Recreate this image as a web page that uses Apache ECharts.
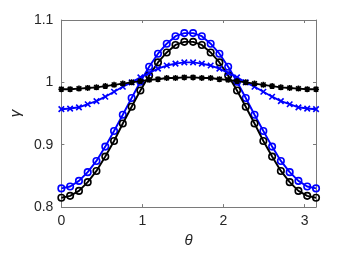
<!DOCTYPE html>
<html><head><meta charset="utf-8">
<script src="https://cdn.jsdelivr.net/npm/echarts@6/dist/echarts.min.js"></script>
<style>html,body{margin:0;padding:0;background:#fff}#c{width:349px;height:253px}</style>
</head><body><div id="c"></div>
<script>
var theta = [0, 0.108, 0.217, 0.325, 0.433, 0.542, 0.650, 0.758, 0.867, 0.975, 1.083, 1.192, 1.300, 1.408, 1.517,
             1.625, 1.733, 1.842, 1.950, 2.058, 2.167, 2.275, 2.383, 2.492, 2.600, 2.708, 2.817, 2.925, 3.033, 3.142];
var blackCircles = [0.815,0.818,0.826,0.840,0.858,0.881,0.906,0.934,0.961,0.987,1.011,1.032,1.048,1.060,1.065,
                    1.065,1.060,1.048,1.032,1.011,0.987,0.961,0.934,0.906,0.881,0.858,0.840,0.826,0.818,0.815];
var blueCircles = [0.830,0.833,0.842,0.856,0.874,0.897,0.922,0.948,0.975,1.001,1.025,1.046,1.062,1.074,1.079,
                   1.079,1.074,1.062,1.046,1.025,1.001,0.975,0.948,0.922,0.897,0.874,0.856,0.842,0.833,0.830];
var blueCross = [0.957,0.958,0.960,0.965,0.970,0.977,0.985,0.993,1.000,1.008,1.015,1.022,1.027,1.030,1.032,
                 1.032,1.030,1.027,1.022,1.015,1.008,1.000,0.993,0.985,0.977,0.970,0.965,0.960,0.958,0.957];
var blackStar = [0.989,0.989,0.990,0.991,0.992,0.994,0.996,0.998,1.000,1.002,1.004,1.005,1.007,1.007,1.008,
                 1.008,1.007,1.007,1.005,1.004,1.002,1.000,0.998,0.996,0.994,0.992,0.991,0.990,0.989,0.989];
var xTicks = [0, 1, 2, 3];
var yTicks = [0.8, 0.9, 1, 1.1];

function pairs(ys){ return theta.map(function(t,i){ return [t, ys[i]]; }); }

var axisCol = '#7a7a7a';
var labelCol = '#262626';
var font = 'Liberation Sans, Arial, sans-serif';

function mkSeries(name, ys, color, symbol, size, z){
  return {
    name: name, type: 'line', data: pairs(ys), z: z,
    symbol: symbol, symbolSize: size, showSymbol: true,
    lineStyle: {color: color, width: 1.9},
    itemStyle: {color: 'none', borderColor: color, borderWidth: 1.6},
    emphasis: {disabled: true},
    animation: false
  };
}
var circPath = 'path://M10,5A5,5 0 1,1 0,5A5,5 0 1,1 10,5Z';
var xPath = 'path://M0,0L10,10M10,0L0,10';
var starPath = 'path://M0,0L10,10M10,0L0,10M5,-1.5L5,11.5M-1.5,5L11.5,5';

var chart = echarts.init(document.getElementById('c'), null, {renderer: 'canvas'});
chart.setOption({
  animation: false,
  backgroundColor: '#fff',
  grid: {left: 61, right: 33, top: 20, bottom: 45, containLabel: false},
  xAxis: [{
    type: 'value', min: 0, max: 3.1416, interval: 1, position: 'bottom',
    name: 'θ', nameLocation: 'middle', nameGap: 24,
    nameTextStyle: {fontFamily: font, fontStyle: 'italic', fontSize: 15, color: labelCol},
    axisLine: {show: true, onZero: false, lineStyle: {color: axisCol, width: 1}},
    axisTick: {show: true, inside: true, length: 3, lineStyle: {color: axisCol}},
    axisLabel: {margin: 7, fontFamily: font, fontSize: 14, color: labelCol, showMaxLabel: false,
      formatter: function(v){ return xTicks.indexOf(v) >= 0 ? String(v) : ''; }},
    splitLine: {show: false}
  }, {
    type: 'value', min: 0, max: 3.1416, interval: 1, position: 'top',
    axisLine: {show: true, onZero: false, lineStyle: {color: axisCol, width: 1}},
    axisTick: {show: true, inside: true, length: 3, lineStyle: {color: axisCol}},
    axisLabel: {show: false}, splitLine: {show: false}
  }],
  yAxis: [{
    type: 'value', min: 0.8, max: 1.1, interval: 0.1, position: 'left',
    name: 'γ', nameLocation: 'middle', nameGap: 36, nameRotate: 90,
    nameTextStyle: {fontFamily: font, fontStyle: 'italic', fontSize: 15, color: labelCol},
    axisLine: {show: true, onZero: false, lineStyle: {color: axisCol, width: 1}},
    axisTick: {show: true, inside: true, length: 3, lineStyle: {color: axisCol}},
    axisLabel: {margin: 8, fontFamily: font, fontSize: 14, color: labelCol,
      formatter: function(v){ var r = Math.round(v*10)/10; return yTicks.indexOf(r) >= 0 ? String(r) : ''; }},
    splitLine: {show: false}
  }, {
    type: 'value', min: 0.8, max: 1.1, interval: 0.1, position: 'right',
    axisLine: {show: true, onZero: false, lineStyle: {color: axisCol, width: 1}},
    axisTick: {show: true, inside: true, length: 3, lineStyle: {color: axisCol}},
    axisLabel: {show: false}, splitLine: {show: false}
  }],
  series: [
    mkSeries('blueCircles', blueCircles, '#0000ff', circPath, 6.5, 2),
    mkSeries('blackCircles', blackCircles, '#000000', circPath, 6.5, 3),
    mkSeries('blueCross', blueCross, '#0000ff', xPath, 5.5, 4),
    mkSeries('blackStar', blackStar, '#000000', starPath, 6, 5)
  ]
});
</script></body></html>
